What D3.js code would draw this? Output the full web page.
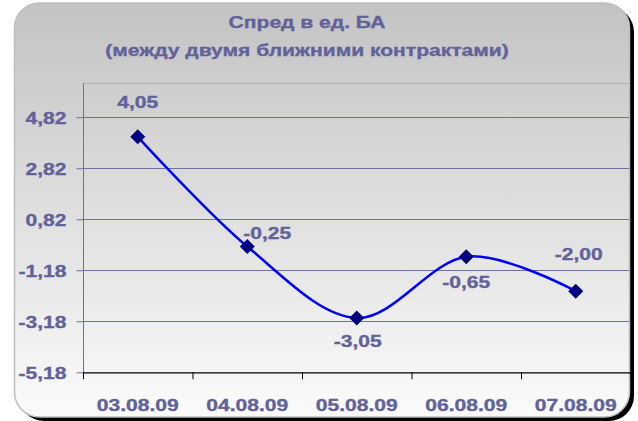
<!DOCTYPE html>
<html>
<head>
<meta charset="utf-8">
<script src="https://cdn.jsdelivr.net/npm/d3@7"></script>
<style>
html,body{margin:0;padding:0;background:#ffffff;}
svg{display:block;}
text{font-family:"Liberation Sans",Arial,sans-serif;font-weight:bold;}
</style>
</head>
<body>
<svg id="chart" width="638" height="421"></svg>
<script>
// ---- data ----
const titleLines = ["Спред в ед. БА", "(между двумя ближними контрактами)"];
const categories = ["03.08.09", "04.08.09", "05.08.09", "06.08.09", "07.08.09"];
const values = [4.05, -0.25, -3.05, -0.65, -2.00];
const yTicks = [-5.18, -3.18, -1.18, 0.82, 2.82, 4.82];
const yDomain = [-5.18, 6.16];
// label placement (dx, dy of baseline relative to marker)
const labelPlacement = [[0, -29], [20, -8], [1, 29], [0, 31], [3, -31]];

// ---- layout ----
const svg = d3.select("#chart");
const plot = {left: 83, right: 630.5, top: 83, bottom: 372.3};
const textColor = "#62629a";
const fs = 17, sx = 1.24;
const fmt = v => v.toFixed(2).replace(".", ",");

const defs = svg.append("defs");
const grad = defs.append("linearGradient").attr("id", "bg").attr("x1", 0).attr("y1", 0).attr("x2", 0).attr("y2", 1);
grad.append("stop").attr("offset", "0%").attr("stop-color", "#c3c3c3");
grad.append("stop").attr("offset", "100%").attr("stop-color", "#fbfbfb");

// shadow + box
svg.append("rect").attr("x", 19).attr("y", 7).attr("width", 615).attr("height", 414).attr("rx", 25).attr("fill", "#000");
svg.append("rect").attr("x", 14.5).attr("y", 3).attr("width", 615).attr("height", 414).attr("rx", 25)
  .attr("fill", "url(#bg)").attr("stroke", "#bdbdbd").attr("stroke-width", 1.5);

function styleText(sel) {
  return sel.attr("font-size", fs).attr("fill", textColor)
    .attr("stroke", textColor).attr("stroke-width", 0.35)
    .attr("font-family", "Liberation Sans, Arial, sans-serif").attr("font-weight", "bold");
}
function txt(g, x, y, s, anchor) {
  return styleText(g.append("text")
    .attr("transform", `translate(${x},${y}) scale(${sx},1)`)
    .attr("text-anchor", anchor || "middle")
    .text(s));
}

// title
txt(svg, 307, 28, titleLines[0]);
txt(svg, 307, 56, titleLines[1]);

// scales
const x = d3.scaleBand().domain(categories).range([plot.left, plot.right]);
const xc = d => x(d) + x.bandwidth() / 2;
const y = d3.scaleLinear().domain(yDomain).range([plot.bottom, plot.top]);

// plot top border
svg.append("line").attr("x1", plot.left).attr("x2", 629).attr("y1", plot.top + 0.5).attr("y2", plot.top + 0.5)
  .attr("stroke", "#b2b2ba").attr("stroke-width", 1);

// gridlines
svg.append("g").selectAll("line").data(yTicks.filter(t => t !== yDomain[0])).join("line")
  .attr("x1", plot.left).attr("x2", 629)
  .attr("y1", d => Math.round(y(d)) + 0.5).attr("y2", d => Math.round(y(d)) + 0.5)
  .attr("stroke", "#6f6fa0").attr("stroke-width", 1);

// y axis
const yAxis = svg.append("g").attr("transform", `translate(${plot.left + 0.5},0)`)
  .call(d3.axisLeft(y).tickValues(yTicks).tickFormat(fmt).tickSize(7).tickSizeOuter(0));
yAxis.select(".domain").attr("stroke", "#6f6fa0").attr("d", `M0,${plot.top}V${plot.bottom}`);
yAxis.selectAll(".tick line").attr("stroke", "#6f6fa0");
styleText(yAxis.selectAll(".tick text")
  .attr("x", null).attr("dy", null)
  .attr("transform", `translate(-17,6.5) scale(${sx},1)`));

// x axis ticks (between categories)
const xEdges = d3.scaleLinear().domain([0, categories.length]).range([plot.left, plot.right]);
const xAxis = svg.append("g").attr("transform", `translate(0,${plot.bottom})`)
  .call(d3.axisBottom(xEdges).ticks(categories.length).tickFormat("").tickSize(7).tickSizeOuter(0));
xAxis.select(".domain").attr("stroke", "#000").attr("stroke-width", 1.2);
xAxis.selectAll(".tick line").attr("stroke", "#000");

// x labels
const xl = svg.append("g");
categories.forEach(c => txt(xl, xc(c), 411, c));

// line
const pts = categories.map((c, i) => [xc(c), y(values[i])]);
svg.append("path").datum(pts)
  .attr("d", d3.line().curve(d3.curveCardinal.tension(0)))
  .attr("fill", "none").attr("stroke", "#0000ff").attr("stroke-width", 2.5);

// markers
svg.append("g").selectAll("path").data(pts).join("path")
  .attr("transform", d => `translate(${d[0]},${d[1]})`)
  .attr("d", "M0,-7.5L7.5,0L0,7.5L-7.5,0Z")
  .attr("fill", "#000080");

// data labels
const dl = svg.append("g");
pts.forEach((p, i) => txt(dl, p[0] + labelPlacement[i][0], p[1] + labelPlacement[i][1], fmt(values[i])));
</script>
</body>
</html>
